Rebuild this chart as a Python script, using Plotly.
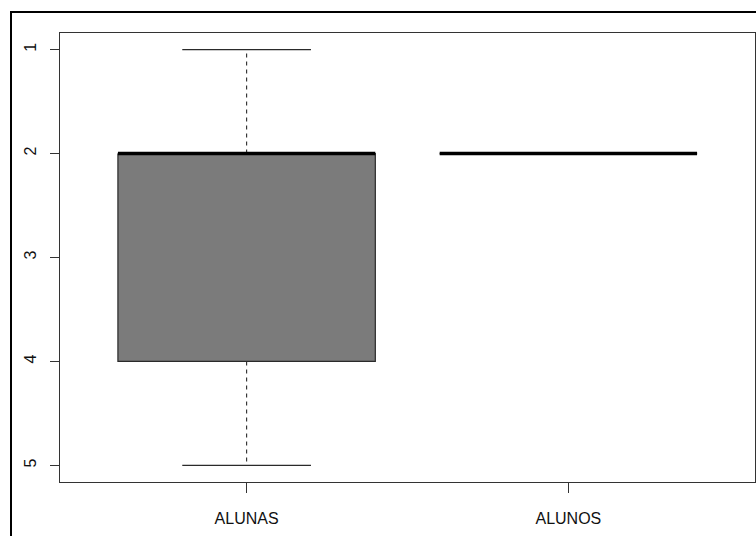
import plotly.graph_objects as go

categories = ["ALUNAS", "ALUNOS"]
positions = [1, 2]
lower_whisker = [1, 2]
q1 = [2, 2]
medians = [2, 2]
q3 = [4, 2]
upper_whisker = [5, 2]
y_ticks = [1, 2, 3, 4, 5]

BOX_HALF = 0.4
CAP_HALF = 0.2
FONT = "Liberation Sans Narrow, Arial Narrow, Liberation Sans, sans-serif"

fig = go.Figure()

for i, cat in enumerate(categories):
    p = positions[i]
    # whiskers (dashed)
    for a, b in ((q3[i], upper_whisker[i]), (q1[i], lower_whisker[i])):
        fig.add_trace(go.Scatter(x=[p, p], y=[a, b], mode="lines",
                                 line=dict(color="#2a2a2a", width=1.1, dash="4px,4px"),
                                 showlegend=False, hoverinfo="skip"))
    # caps
    for v in (lower_whisker[i], upper_whisker[i]):
        fig.add_trace(go.Scatter(x=[p - CAP_HALF, p + CAP_HALF], y=[v, v], mode="lines",
                                 line=dict(color="#2a2a2a", width=1.2),
                                 showlegend=False, hoverinfo="skip"))
    # box
    fig.add_trace(go.Scatter(
        x=[p - BOX_HALF, p + BOX_HALF, p + BOX_HALF, p - BOX_HALF, p - BOX_HALF],
        y=[q1[i], q1[i], q3[i], q3[i], q1[i]],
        mode="lines", fill="toself", fillcolor="#7b7b7b",
        line=dict(color="#2a2a2a", width=1.2),
        showlegend=False, hoverinfo="skip"))
    # median
    fig.add_trace(go.Scatter(x=[p - BOX_HALF, p + BOX_HALF], y=[medians[i], medians[i]],
                             mode="lines", line=dict(color="#000000", width=3.5),
                             showlegend=False, hoverinfo="skip"))

fig.update_layout(
    width=756, height=536,
    margin=dict(l=60, r=1, t=33, b=54),
    paper_bgcolor="white", plot_bgcolor="white",
    font=dict(family=FONT, size=16, color="#111111"),
    xaxis=dict(range=[0.42, 2.58], tickvals=positions, ticktext=categories,
               showgrid=False, zeroline=False, showline=True, linecolor="#333333",
               linewidth=1.2, mirror=True, ticks="outside", ticklen=10,
               tickcolor="#333333", tickfont=dict(size=16, family=FONT, color="#111111"),
               ticklabelstandoff=12),
    yaxis=dict(range=[5.16, 0.84], tickvals=y_ticks, ticktext=[str(v) for v in y_ticks],
               showgrid=False, zeroline=False, showline=True, linecolor="#333333",
               linewidth=1.2, mirror=True, ticks="outside", ticklen=9,
               tickcolor="#333333", tickangle=-90,
               tickfont=dict(size=16, family=FONT, color="#111111"),
               ticklabelstandoff=8),
    shapes=[dict(type="rect", xref="paper", yref="paper",
                 x0=(11 - 60) / 695, x1=(770 - 60) / 695,
                 y0=(482 - 560) / 449, y1=(482 - 12) / 449,
                 line=dict(color="black", width=2), fillcolor="rgba(0,0,0,0)", layer="below")],
)

fig.write_html("out.html", config={"displayModeBar": False})

with open("out.html", "r", encoding="utf-8") as f:
    html = f.read()
html = html.replace("<head>", "<head><style>html,body{margin:0;padding:0;overflow:hidden;}</style>", 1)
with open("out.html", "w", encoding="utf-8") as f:
    f.write(html)
